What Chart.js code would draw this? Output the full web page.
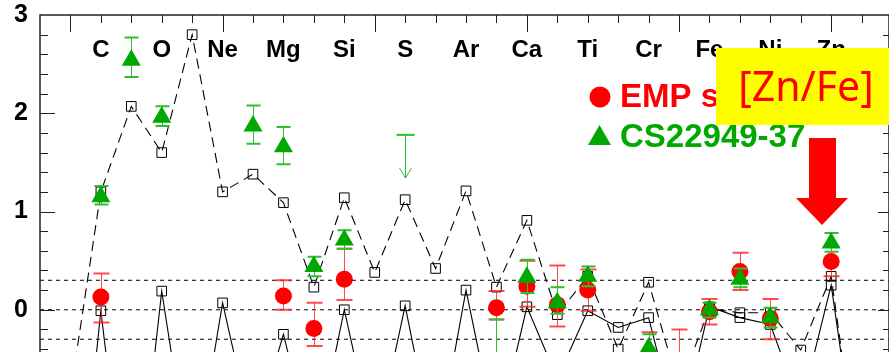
<!DOCTYPE html>
<html>
<head>
<meta charset="utf-8">
<title>[Zn/Fe]</title>
<script src="https://cdn.jsdelivr.net/npm/chart.js@4.4.1/dist/chart.umd.min.js"></script>
<style>
  html, body { margin: 0; padding: 0; background: #fff; }
  #wrap { width: 889px; height: 352px; overflow: hidden; }
</style>
</head>
<body>
<div id="wrap"><canvas id="abund" width="889" height="352"></canvas></div>
<script>
// model yields, one value per atomic number
const modelZ      = [5, 6, 7, 8, 9, 10, 11, 12, 13, 14, 15, 16, 17, 18, 19, 20, 21, 22, 23, 24, 25, 26, 27, 28, 29, 30, 31];
const modelDashed = [-0.85, 1.20, 2.07, 1.60, 2.80, 1.20, 1.38, 1.09, 0.23, 1.14, 0.38, 1.12, 0.42, 1.21, 0.23, 0.91, -0.05, 0.34, -0.40, 0.28, -0.80, 0.01, -0.03, -0.03, -0.41, 0.34, -1.90];
const modelSolid  = [-3.00, -0.01, -2.60, 0.19, -1.80, 0.07, -1.30, -0.25, -1.50, 0.00, -1.40, 0.04, -1.50, 0.20, -1.30, 0.03, -0.70, -0.01, -0.18, -0.08, -1.30, 0.03, -0.08, -0.15, -1.00, 0.25, -1.90];

// EMP stars
const empZ       = [6, 12, 13, 14, 19, 20, 21, 22, 24, 25, 26, 27, 28, 30];
const empVal     = [0.13, 0.14, -0.19, 0.31, 0.02, 0.24, 0.05, 0.20, -0.60, -0.55, -0.02, 0.39, -0.09, 0.49];
const empErrUp   = [0.24, 0.16, 0.26, 0.31, 0.17, 0.26, 0.40, 0.21, 0.37, 0.35, 0.13, 0.19, 0.20, 0.15];
const empErrDown = [0.26, 0.14, 0.18, 0.21, 0.12, 0.21, 0.22, 0.21, 0.37, 0.35, 0.13, 0.19, 0.21, 0.15];

// CS22949-37
const csZ       = [6, 7, 8, 11, 12, 13, 14, 19, 20, 21, 22, 24, 26, 27, 28, 30];
const csVal     = [1.15, 2.54, 1.96, 1.87, 1.66, 0.44, 0.71, -0.60, 0.33, 0.07, 0.34, -0.39, 0.00, 0.31, -0.08, 0.68];
const csErrUp   = [0.11, 0.23, 0.11, 0.21, 0.20, 0.10, 0.10, 0.50, 0.18, 0.16, 0.10, 0.14, 0.07, 0.11, 0.10, 0.10];
const csErrDown = [0.08, 0.17, 0.09, 0.18, 0.18, 0.10, 0.09, 0.50, 0.16, 0.11, 0.10, 0.14, 0.08, 0.08, 0.10, 0.09];
const csLimitZ   = [16];
const csLimitVal = [1.78];

const elemZ     = [6, 8, 10, 12, 14, 16, 18, 20, 22, 24, 26, 28, 30];
const elemNames = ['C', 'O', 'Ne', 'Mg', 'Si', 'S', 'Ar', 'Ca', 'Ti', 'Cr', 'Fe', 'Ni', 'Zn'];

const refLevels = [-0.3, 0, 0.3];
const yLabels   = [0, 1, 2, 3];
const legendNames = ['EMP stars', 'CS22949-37'];
const boxLabel = '[Zn/Fe]';

const xMin = 4, xMax = 31.9;
const yMin = -0.43, yMax = 3;

const RED = '#ff0000';
const GREEN = '#00a800';

function pts(xs, ys) {
    return xs.map((x, i) => ({ x: x, y: ys[i] }));
}

// error bars are drawn right before the symbols of their own dataset
const errorBars = {
    id: 'errorBars',
    beforeDatasetDraw(chart, args) {
        const set = chart.data.datasets[args.index];
        if (!set.errUp) return;
        const ctx = chart.ctx;
        const xs = chart.scales.x, ys = chart.scales.y;
        const area = chart.chartArea;
        ctx.save();
        ctx.beginPath();
        ctx.rect(area.left, area.top, area.right - area.left, area.bottom - area.top);
        ctx.clip();
        ctx.strokeStyle = set.errColor;
        set.data.forEach((p, i) => {
            const px = Math.round(xs.getPixelForValue(p.x)) + 0.5;
            const top = ys.getPixelForValue(p.y + set.errUp[i]);
            const bot = ys.getPixelForValue(p.y - set.errDown[i]);
            const c = set.capWidth / 2;
            ctx.lineWidth = 1;
            ctx.beginPath();
            ctx.moveTo(px, top);
            ctx.lineTo(px, bot);
            ctx.stroke();
            ctx.lineWidth = 2;
            ctx.beginPath();
            ctx.moveTo(px - c, top); ctx.lineTo(px + c, top);
            ctx.moveTo(px - c, bot); ctx.lineTo(px + c, bot);
            ctx.stroke();
        });
        // upper limits (bar + open arrow down)
        if (set.limitZ) {
            set.limitZ.forEach((z, i) => {
                const px = Math.round(xs.getPixelForValue(z)) + 0.5;
                const top = ys.getPixelForValue(set.limitVal[i]);
                const tip = ys.getPixelForValue(set.limitVal[i] - 0.44);
                ctx.lineWidth = 1;
                ctx.beginPath();
                ctx.moveTo(px, top); ctx.lineTo(px, tip);
                ctx.moveTo(px - 6, tip - 10); ctx.lineTo(px, tip); ctx.lineTo(px + 6, tip - 10);
                ctx.stroke();
                ctx.lineWidth = 2;
                ctx.beginPath();
                ctx.moveTo(px - 9, top); ctx.lineTo(px + 9, top);
                ctx.stroke();
            });
        }
        ctx.restore();
    }
};

const overlay = {
    id: 'overlay',
    afterDraw(chart) {
        const ctx = chart.ctx;
        const xs = chart.scales.x, ys = chart.scales.y;
        const { left, right, top, bottom } = chart.chartArea;

        ctx.save();
        // frame
        ctx.strokeStyle = '#222';
        ctx.lineWidth = 1.5;
        ctx.beginPath();
        ctx.moveTo(left, bottom); ctx.lineTo(left, top); ctx.lineTo(right, top); ctx.lineTo(right, bottom);
        ctx.stroke();

        // inward ticks
        ctx.lineWidth = 1;
        ctx.beginPath();
        for (let z = Math.ceil(xMin + 0.5); z <= Math.floor(xMax); z++) {
            const px = Math.round(xs.getPixelForValue(z)) + 0.5;
            const len = z % 5 === 0 ? 17 : 8;
            ctx.moveTo(px, top); ctx.lineTo(px, top + len);
        }
        for (let k = -2; k <= 15; k++) {
            const v = k * 0.2;
            const py = Math.round(ys.getPixelForValue(v)) + 0.5;
            if (py > bottom || py < top + 2) continue;
            const len = k % 5 === 0 ? 15 : 8;
            ctx.moveTo(left, py); ctx.lineTo(left + len, py);
            ctx.moveTo(right, py); ctx.lineTo(right - (k % 5 === 0 ? 11 : 6), py);
        }
        ctx.stroke();

        // element names
        ctx.fillStyle = '#000';
        ctx.font = 'bold 24px "Liberation Sans", Arial, sans-serif';
        ctx.textAlign = 'center';
        ctx.textBaseline = 'alphabetic';
        elemZ.forEach((z, i) => {
            ctx.fillText(elemNames[i], xs.getPixelForValue(z), ys.getPixelForValue(2.573));
        });

        // legend
        ctx.textAlign = 'left';
        ctx.font = 'bold 33px "Liberation Sans", Arial, sans-serif';
        ctx.fillStyle = RED;
        ctx.beginPath();
        ctx.arc(600, 97, 10.5, 0, Math.PI * 2);
        ctx.fill();
        ctx.fillText(legendNames[0], 620, 107);
        ctx.fillStyle = GREEN;
        ctx.beginPath();
        ctx.moveTo(599.5, 125); ctx.lineTo(611, 145); ctx.lineTo(588, 145);
        ctx.closePath();
        ctx.fill();
        ctx.fillText(legendNames[1], 620, 147);

        // yellow label box
        ctx.fillStyle = '#ffff00';
        ctx.fillRect(716, 48, 889 - 716, 77);
        ctx.fillStyle = RED;
        ctx.font = '41px "Noto Sans", "Open Sans", sans-serif';
        ctx.textAlign = 'center';
        ctx.fillText(boxLabel, 806, 101);

        // big red arrow pointing at Zn
        ctx.beginPath();
        ctx.moveTo(809, 138); ctx.lineTo(836, 138); ctx.lineTo(836, 198);
        ctx.lineTo(848, 198); ctx.lineTo(822, 225); ctx.lineTo(796, 198);
        ctx.lineTo(809, 198);
        ctx.closePath();
        ctx.fill();
        ctx.restore();
    }
};

const datasets = [
    {
        label: legendNames[1],
        data: pts(csZ, csVal),
        errUp: csErrUp, errDown: csErrDown,
        limitZ: csLimitZ, limitVal: csLimitVal,
        errColor: '#2cc02c', capWidth: 14,
        pointStyle: 'triangle', pointRadius: 11,
        pointBackgroundColor: GREEN, pointBorderWidth: 0
    },
    {
        label: legendNames[0],
        data: pts(empZ, empVal),
        errUp: empErrUp, errDown: empErrDown,
        errColor: 'rgba(255,30,30,0.8)', capWidth: 16,
        pointStyle: 'circle', pointRadius: 8.5,
        pointBackgroundColor: RED, pointBorderWidth: 0
    },
    {
        type: 'line', showLine: true,
        data: pts(modelZ, modelSolid),
        borderColor: '#000', borderWidth: 1.1, tension: 0,
        pointStyle: 'rect', pointRadius: 6.8,
        pointBorderColor: '#000', pointBorderWidth: 1, pointBackgroundColor: 'rgba(0,0,0,0)'
    },
    {
        type: 'line', showLine: true,
        data: pts(modelZ, modelDashed),
        borderColor: '#000', borderWidth: 1.1, borderDash: [10, 6], tension: 0,
        pointStyle: 'rect', pointRadius: 6.8,
        pointBorderColor: '#000', pointBorderWidth: 1, pointBackgroundColor: 'rgba(0,0,0,0)'
    }
];

// dotted reference levels
refLevels.forEach(lvl => {
    datasets.push({
        type: 'line', showLine: true,
        data: [{ x: xMin, y: lvl }, { x: xMax, y: lvl }],
        borderColor: '#000', borderWidth: 1, borderDash: [4, 4],
        pointRadius: 0
    });
});

new Chart(document.getElementById('abund'), {
    type: 'scatter',
    data: { datasets: datasets },
    options: {
        responsive: false,
        animation: false,
        layout: { autoPadding: false, padding: { top: 15, right: 0, bottom: 0, left: 0 } },
        plugins: {
            legend: { display: false },
            tooltip: { enabled: false }
        },
        scales: {
            x: { type: 'linear', min: xMin, max: xMax, display: false },
            y: {
                type: 'linear', min: yMin, max: yMax,
                grid: { display: false, drawTicks: false },
                border: { display: false },
                afterBuildTicks: s => { s.ticks = yLabels.map(v => ({ value: v })); },
                afterFit: s => { s.width = 40; s.paddingTop = 0; s.paddingBottom = 0; },
                ticks: {
                    padding: 12,
                    color: '#000',
                    font: { family: 'Liberation Sans', size: 25, weight: 'bold' }
                }
            }
        }
    },
    plugins: [errorBars, overlay]
});
</script>
</body>
</html>
